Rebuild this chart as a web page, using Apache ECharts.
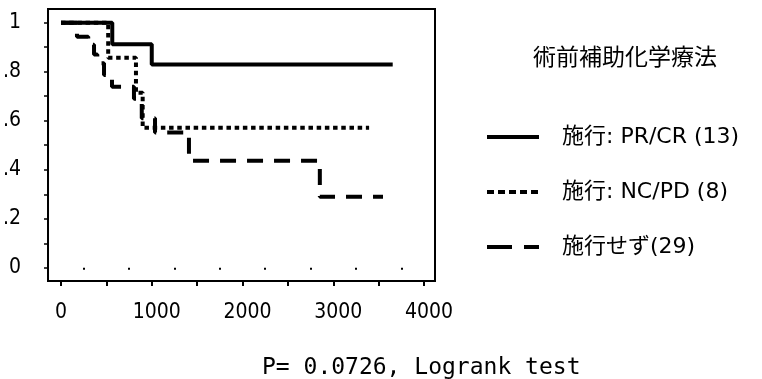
<!DOCTYPE html>
<html>
<head>
<meta charset="utf-8">
<script src="https://cdn.jsdelivr.net/npm/echarts@6/dist/echarts.min.js"></script>
<style>
  html, body { margin: 0; padding: 0; background: #fff; }
  #main { width: 762px; height: 379px; }
</style>
</head>
<body>
<div id="main"></div>
<script>
// 生存曲线数据 (Kaplan-Meier, 阶梯)
var groupNames = ['施行: PR/CR (13)', '施行: NC/PD (8)', '施行せず(29)'];

var prcrDays = [0, 565, 1000, 3655];
var prcrSurv = [1, 0.912, 0.83, 0.83];

var ncpdDays = [0, 520, 826, 900, 3395];
var ncpdSurv = [1, 0.857, 0.714, 0.571, 0.571];

var noneDays = [0, 176, 300, 364, 400, 474, 562, 804, 890, 1036, 1410, 2852, 3548];
var noneSurv = [1, 0.943, 0.91, 0.87, 0.835, 0.787, 0.739, 0.69, 0.61, 0.552, 0.437, 0.29, 0.29];

var xTicks = [0, 500, 1000, 1500, 2000, 2500, 3000, 3500, 4000];
var xMinorTicks = [250, 750, 1250, 1750, 2250, 2750, 3250, 3750];
var xLabels = [0, 1000, 2000, 3000, 4000];
var yTicks = [0, 0.1, 0.2, 0.3, 0.4, 0.5, 0.6, 0.7, 0.8, 0.9, 1];
var yLabelValues = [0, 0.2, 0.4, 0.6, 0.8, 1];
var yLabelTexts = ['0', '.2', '.4', '.6', '.8', '1'];

function pairs(xs, ys) {
    return xs.map(function (x, i) { return [x, ys[i]]; });
}

var myChart = echarts.init(document.getElementById('main'));

var axisFont = 'DejaVu Sans Condensed';

var option = {
    animation: false,
    title: [{
        text: '術前補助化学療法',
        left: 533,
        top: 45,
        padding: 0,
        textStyle: {
            fontFamily: 'Noto Sans CJK JP',
            fontSize: 23,
            fontWeight: 'normal',
            color: '#000'
        }
    }, {
        text: 'P= 0.0726, Logrank test',
        left: 262,
        top: 357,
        padding: 0,
        textStyle: {
            fontFamily: 'DejaVu Sans Mono',
            fontSize: 23,
            fontWeight: 'normal',
            color: '#000'
        }
    }],
    legend: {
        orient: 'vertical',
        left: 485,
        top: 126,
        padding: 0,
        itemWidth: 52,
        itemHeight: 20,
        itemGap: 33,
        itemStyle: { opacity: 0 },
        textStyle: {
            fontFamily: 'DejaVu Sans, Noto Sans CJK JP',
            fontSize: 22,
            color: '#000',
            padding: [0, 0, 0, 18]
        },
        data: [
            { name: groupNames[0], lineStyle: { type: 'solid', width: 4 } },
            { name: groupNames[1], lineStyle: { type: [7, 4], width: 4 } },
            { name: groupNames[2], lineStyle: { type: [25, 12], width: 4 } }
        ]
    },
    grid: {
        left: 48,
        right: 327,
        top: 9,
        bottom: 98,
        show: true,
        borderColor: '#000',
        borderWidth: 2
    },
    xAxis: [{
        type: 'value',
        min: -143,
        max: 4121,
        position: 'bottom',
        splitLine: { show: false },
        axisLine: { onZero: false, lineStyle: { color: '#000', width: 2 } },
        axisTick: { customValues: xTicks, length: 5, lineStyle: { color: '#000', width: 2 } },
        axisLabel: {
            customValues: xLabels,
            margin: 21,
            fontFamily: axisFont,
            fontSize: 21,
            color: '#000',
            formatter: function (v) { return v === 0 ? '0' : '{s|' + v + '}'; },
            rich: {
                s: { fontFamily: axisFont, fontSize: 21, color: '#000', padding: [0, 0, 0, 10] }
            }
        }
    }, {
        type: 'value',
        min: -143,
        max: 4121,
        position: 'bottom',
        splitLine: { show: false },
        axisLine: { show: false },
        axisTick: { customValues: xMinorTicks, length: 2, lineStyle: { color: '#000', width: 2 } },
        axisLabel: { show: false }
    }],
    yAxis: {
        type: 'value',
        min: -0.054,
        max: 1.056,
        splitLine: { show: false },
        axisLine: { onZero: false, lineStyle: { color: '#000', width: 2 } },
        axisTick: { customValues: yTicks, length: 4, lineStyle: { color: '#000', width: 1.5 } },
        axisLabel: {
            customValues: yLabelValues,
            margin: 27,
            fontFamily: axisFont,
            fontSize: 21,
            color: '#000',
            formatter: function (v) {
                var i = yLabelValues.indexOf(v);
                return i >= 0 ? yLabelTexts[i] : '';
            }
        }
    },
    series: [{
        name: groupNames[0],
        type: 'line',
        step: 'end',
        symbol: 'none',
        color: '#000',
        lineStyle: { color: '#000', width: 4, type: 'solid' },
        data: pairs(prcrDays, prcrSurv)
    }, {
        name: groupNames[1],
        type: 'line',
        step: 'end',
        symbol: 'none',
        color: '#000',
        lineStyle: { color: '#000', width: 4, type: [4.5, 3.7] },
        data: pairs(ncpdDays, ncpdSurv)
    }, {
        name: groupNames[2],
        type: 'line',
        step: 'end',
        symbol: 'none',
        color: '#000',
        lineStyle: { color: '#000', width: 4, type: [16, 11] },
        data: pairs(noneDays, noneSurv)
    }]
};

myChart.setOption(option);
</script>
</body>
</html>
